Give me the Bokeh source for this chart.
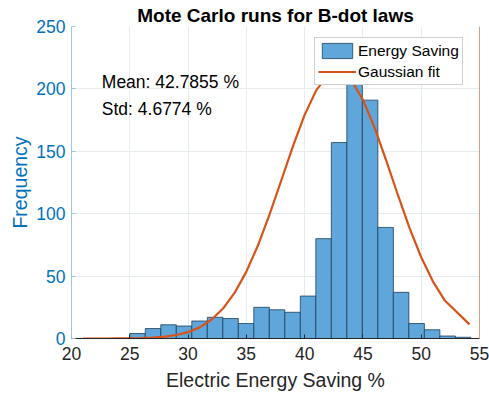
from bokeh.plotting import figure
from bokeh.models import (ColumnDataSource, LinearAxis, FixedTicker, Label,
                          Legend, LegendItem, Range1d)
from bokeh.embed import file_html
from bokeh.resources import INLINE

# ---- data ----
bin_edges = [25.00, 26.33, 27.66, 28.99, 30.32, 31.65, 32.98, 34.31, 35.64,
             36.97, 38.30, 39.63, 40.96, 42.29, 43.62, 44.95, 46.28, 47.61,
             48.94, 50.27, 51.60, 52.93, 54.26]
counts = [4, 8, 11, 10, 14, 17, 16, 12, 25, 23, 21, 34, 80, 157, 206, 191,
          89, 37, 12, 7, 2, 1]

fit_x = [21, 22, 23, 24, 25, 26, 27, 28, 29, 30, 31, 32, 33, 34, 35, 36, 37,
         38, 39, 40, 41, 42, 43, 44, 45, 46, 47, 48, 49, 50, 51, 52, 54.14]
fit_y = [0.0, 0.0, 0.0, 0.1, 0.2, 0.3, 0.7, 1.5, 2.8, 5.1, 8.9, 15.0, 24.0,
         36.7, 53.6, 74.7, 99.6, 126.8, 154.2, 179.2, 199.0, 211.0, 213.8,
         206.9, 191.3, 169.0, 142.6, 115.0, 88.5, 65.1, 45.8, 30.7, 11.3]

x_ticks = [20, 25, 30, 35, 40, 45, 50, 55]
y_ticks = [0, 50, 100, 150, 200, 250]

title_text = "Mote Carlo runs for B-dot laws"
x_label = "Electric Energy Saving %"
y_label = "Frequency"
mean_text = "Mean: 42.7855 %"
std_text = "Std: 4.6774 %"
series_names = ["Energy Saving", "Gaussian fit"]

FONT = "Liberation Sans"
BLUE = "#0072BD"
ORANGE = "#D95319"
DARK = "#262626"

p = figure(width=489, height=395, output_backend="svg", toolbar_location=None,
           x_range=Range1d(20, 55), y_range=Range1d(0, 250),
           min_border_left=71, min_border_right=10, min_border_top=26,
           min_border_bottom=57)
p.title.text = title_text
p.title.align = "center"
p.title.text_font = FONT
p.title.text_font_size = "19px"
p.title.text_font_style = "bold"
p.title.text_color = "#000000"
p.title.offset = 0
p.title.standoff = 1
p.outline_line_color = None
p.background_fill_color = "white"
p.border_fill_color = "white"

src = ColumnDataSource(dict(left=bin_edges[:-1], right=bin_edges[1:],
                            top=counts, bottom=[0] * len(counts)))
bars = p.quad(left="left", right="right", top="top", bottom="bottom",
              source=src, fill_color="#5FA7DA", fill_alpha=1.0,
              line_color="#1D3F5A", line_width=0.8)
fit = p.line(fit_x, fit_y, line_color=ORANGE, line_width=2.2)

# axes
xa = p.xaxis[0]
xa.ticker = FixedTicker(ticks=x_ticks)
xa.axis_label = x_label
xa.axis_label_text_font = FONT
xa.axis_label_text_font_size = "19.5px"
xa.axis_label_text_font_style = "normal"
xa.axis_label_text_color = DARK
xa.axis_label_standoff = 6
xa.major_label_text_font = FONT
xa.major_label_text_font_size = "17.5px"
xa.major_label_text_color = DARK
xa.major_label_standoff = 8
xa.axis_line_color = DARK
xa.major_tick_in = 4
xa.major_tick_out = 0
xa.major_tick_line_color = DARK
xa.minor_tick_line_color = None

ya = p.yaxis[0]
ya.ticker = FixedTicker(ticks=y_ticks)
ya.axis_label = y_label
ya.axis_label_text_font = FONT
ya.axis_label_text_font_size = "19.5px"
ya.axis_label_text_font_style = "normal"
ya.axis_label_text_color = BLUE
ya.axis_label_standoff = 2
ya.major_label_text_font = FONT
ya.major_label_text_font_size = "17.5px"
ya.major_label_text_color = BLUE
ya.major_label_standoff = 6
ya.axis_line_color = "#9BC7E0"
ya.major_tick_in = 4
ya.major_tick_out = 0
ya.major_tick_line_color = "#9BC7E0"
ya.minor_tick_line_color = None

ra = LinearAxis(ticker=FixedTicker(ticks=[]), axis_line_color="#D9A27F",
                major_tick_line_color=None, minor_tick_line_color=None,
                major_label_text_font_size="0px")
p.add_layout(ra, "right")

p.xgrid.grid_line_color = "#E6ECF0"
p.ygrid.grid_line_color = "#E6ECF0"
p.xgrid.ticker = FixedTicker(ticks=x_ticks)
p.ygrid.ticker = FixedTicker(ticks=y_ticks)

# annotations
for txt, yv in [(mean_text, 205.5), (std_text, 184)]:
    p.add_layout(Label(x=22.6, y=yv, text=txt, text_font=FONT,
                       text_font_size="17.5px", text_color="#000000",
                       text_baseline="middle", text_align="left"))

legend = Legend(items=[LegendItem(label=series_names[0], renderers=[bars]),
                       LegendItem(label=series_names[1], renderers=[fit])],
                location=(243, 253), orientation="vertical")
legend.label_text_font = FONT
legend.label_text_font_size = "15.5px"
legend.label_text_color = "#000000"
legend.label_standoff = 2
legend.label_height = 19
legend.glyph_width = 38
legend.glyph_height = 19
legend.spacing = 2
legend.padding = 3
legend.margin = 0
legend.border_line_color = "#A0A0A0"
legend.border_line_width = 1
legend.background_fill_color = "white"
legend.background_fill_alpha = 1.0
p.add_layout(legend, "center")

open("out.html", "w").write(file_html(p, INLINE))
